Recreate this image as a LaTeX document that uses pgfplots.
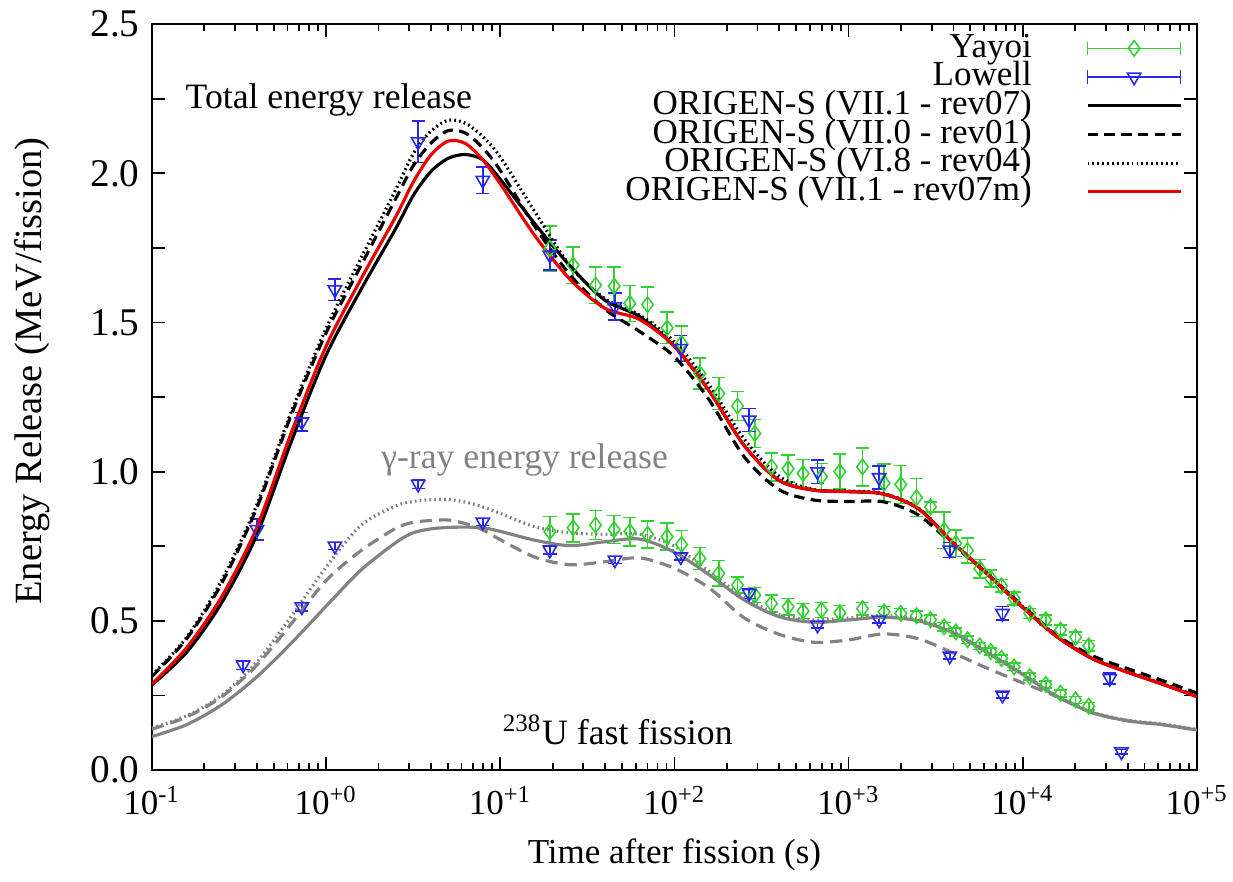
\documentclass[border=0pt]{standalone}
\usepackage{fontspec}
\setmainfont{Liberation Serif}
\usepackage{pgfplots}
\usepackage{pgfplotstable}
\pgfplotsset{compat=1.18}
\definecolor{yayoi}{RGB}{50,210,50}
\definecolor{lowell}{RGB}{40,40,235}
\definecolor{rred}{RGB}{235,0,0}
\definecolor{ggray}{RGB}{130,130,130}

\pgfplotstableread{
t red solid dashed dotted gsolid gdashed gdotted
0.1 0.288 0.285 0.313 0.318 0.112 0.137 0.140
0.1585 0.410 0.395 0.440 0.445 0.152 0.178 0.182
0.2512 0.580 0.560 0.625 0.635 0.218 0.245 0.250
0.3981 0.810 0.785 0.875 0.885 0.311 0.350 0.360
0.631 1.130 1.100 1.190 1.200 0.425 0.490 0.515
1 1.420 1.390 1.465 1.480 0.549 0.635 0.680
1.585 1.645 1.610 1.690 1.715 0.670 0.735 0.820
2.512 1.855 1.815 1.915 1.945 0.762 0.810 0.885
3.162 1.970 1.925 2.025 2.065 0.795 0.830 0.900
3.981 2.060 2.005 2.100 2.140 0.808 0.836 0.906
5.012 2.108 2.050 2.143 2.178 0.813 0.838 0.907
6.31 2.100 2.063 2.135 2.168 0.814 0.826 0.898
7.943 2.045 2.045 2.085 2.123 0.812 0.805 0.882
10 1.965 1.980 2.010 2.055 0.800 0.772 0.860
15.85 1.790 1.830 1.820 1.870 0.770 0.713 0.815
25.12 1.645 1.690 1.660 1.690 0.752 0.688 0.795
39.81 1.548 1.575 1.545 1.580 0.765 0.698 0.790
63.1 1.510 1.520 1.470 1.525 0.774 0.711 0.790
100 1.420 1.420 1.385 1.435 0.730 0.676 0.750
158.5 1.270 1.270 1.240 1.290 0.654 0.610 0.665
251.2 1.088 1.088 1.050 1.110 0.570 0.510 0.578
398.1 0.971 0.971 0.940 0.985 0.514 0.455 0.522
631 0.938 0.938 0.905 0.940 0.495 0.428 0.503
1000 0.933 0.933 0.900 0.935 0.503 0.436 0.510
1585 0.925 0.925 0.899 0.927 0.512 0.456 0.518
2512 0.876 0.876 0.855 0.878 0.500 0.440 0.505
3981 0.761 0.761 0.755 0.763 0.460 0.392 0.463
6310 0.655 0.655 0.655 0.657 0.392 0.340 0.395
10000 0.545 0.545 0.550 0.547 0.320 0.292 0.322
15850 0.445 0.445 0.450 0.447 0.245 0.245 0.247
25120 0.373 0.373 0.383 0.375 0.192 0.192 0.194
39810 0.328 0.328 0.340 0.330 0.165 0.165 0.167
63100 0.288 0.288 0.300 0.290 0.152 0.152 0.154
100000 0.246 0.246 0.258 0.248 0.134 0.134 0.136
}\curves

\pgfplotstableread{
t tot etot gam egam
19.27 1.748 0.075 0.799 0.050
26.21 1.692 0.061 0.812 0.047
35.25 1.625 0.061 0.821 0.049
45.07 1.622 0.064 0.806 0.047
55.46 1.564 0.060 0.799 0.048
70.08 1.560 0.059 0.790 0.045
90.8 1.482 0.053 0.782 0.045
109.9 1.430 0.059 0.756 0.047
139.9 1.329 0.052 0.709 0.037
179.8 1.262 0.053 0.659 0.043
230.2 1.220 0.049 0.620 0.027
289.4 1.128 0.047 0.586 0.025
360.8 1.016 0.047 0.558 0.028
449.5 1.010 0.045 0.547 0.028
548.0 0.994 0.047 0.533 0.025
698.9 0.983 0.045 0.536 0.025
890.3 1.000 0.059 0.527 0.025
1202 1.016 0.064 0.541 0.021
1599 0.962 0.064 0.530 0.018
1994 0.957 0.064 0.525 0.017
2454 0.913 0.064 0.517 0.015
2953 0.882 0.017 0.504 0.015
3534 0.804 0.061 0.480 0.015
4125 0.760 0.045 0.463 0.013
4815 0.735 0.042 0.437 0.013
5665 0.675 0.031 0.416 0.012
6551 0.642 0.028 0.397 0.012
7547 0.617 0.021 0.374 0.012
8916 0.575 0.022 0.346 0.012
10970 0.525 0.017 0.313 0.012
13550 0.503 0.017 0.287 0.012
16460 0.469 0.017 0.257 0.012
20070 0.445 0.017 0.235 0.012
23920 0.416 0.018 0.214 0.012
}\yayoi

\pgfplotstableread{
t y e
0.401 0.806 0.036
0.726 1.167 0.031
1.123 1.610 0.036
3.379 2.106 0.070
7.94 1.977 0.044
19.27 1.726 0.050
45.5 1.553 0.045
108.8 1.413 0.044
268.5 1.173 0.039
663 1.000 0.039
1497 0.980 0.039
3811 0.737 0.025
7645 0.525 0.023
31580 0.307 0.018
}\lowtot

\pgfplotstableread{
t y e
0.334 0.352 0.015
0.726 0.547 0.015
1.123 0.751 0.012
3.379 0.958 0.015
7.94 0.831 0.012
19.27 0.737 0.013
45.5 0.704 0.012
108.8 0.715 0.012
268.5 0.592 0.017
663 0.486 0.010
1497 0.503 0.010
3811 0.382 0.010
7645 0.251 0.010
36860 0.061 0.008
}\lowgam

\pgfplotsset{
  errlegend/.style={legend image code/.code={
    \draw[##1,mark=none,line width=0.45pt] (0pt,0pt) -- (26.6pt,0pt);
    \draw[##1,mark=none,line width=0.45pt] (0pt,-1.9pt) -- (0pt,1.9pt) (26.6pt,-1.9pt) -- (26.6pt,1.9pt);
    \draw[##1] plot coordinates {(13.3pt,0pt)};
  }},
}

\begin{document}
\begin{tikzpicture}
\begin{axis}[
  scale only axis, width=298.6pt, height=213.1pt,
  xmode=log, xmin=0.1, xmax=1e5, ymin=0, ymax=2.5,
  xtick={0.1,1,10,100,1000,10000,100000},
  xticklabels={10\textsuperscript{-1},10\textsuperscript{+0},10\textsuperscript{+1},10\textsuperscript{+2},10\textsuperscript{+3},10\textsuperscript{+4},10\textsuperscript{+5}},
  minor xtick={0.2,0.3,0.4,0.5,0.6,0.7,0.8,0.9,2,3,4,5,6,7,8,9,20,30,40,50,60,70,80,90,200,300,400,500,600,700,800,900,2000,3000,4000,5000,6000,7000,8000,9000,20000,30000,40000,50000,60000,70000,80000,90000},
  ytick={0,0.25,0.5,0.75,1,1.25,1.5,1.75,2,2.25,2.5},
  yticklabels={0.0,,0.5,,1.0,,1.5,,2.0,,2.5},
  major tick length=3.7pt, minor tick length=2pt,
  tick style={black, line width=0.5pt},
  axis line style={line width=0.6pt},
  tick align=inside,
  xticklabel style={yshift=-1pt, font=\fontsize{10}{12}\selectfont},
  yticklabel style={font=\fontsize{11.2}{13}\selectfont},
  xlabel={Time after fission (s)},
  ylabel={Energy Release (MeV/fission)},
  xlabel style={at={(axis description cs:0.5,-0.114)}, anchor=center, font=\fontsize{10}{12}\selectfont},
  ylabel style={at={(axis description cs:-0.115,0.535)}, anchor=center, font=\fontsize{11}{13}\selectfont},
  legend style={draw=none, fill=none, inner sep=0pt, at={(rel axis cs:0.9866,0.9878)}, anchor=north east,
    nodes={inner sep=0pt, text height=6.6pt, text depth=1.6pt, font=\fontsize{10}{12}\selectfont},
    row sep=0pt, column sep=15.5pt},
  legend cell align=right,
  legend plot pos=right,
  legend image code/.code={\draw[#1] (0pt,0pt) -- (26.6pt,0pt);},
]
\coordinate (SW) at (rel axis cs:0,0);
\coordinate (NE) at (rel axis cs:1,1);

% Yayoi total
\addplot[yayoi, line width=0.45pt, only marks, mark=diamond, mark size=2.2pt, errlegend,
  error bars/.cd, y dir=both, y explicit, error bar style={line width=0.45pt},
  error mark options={rotate=90, mark size=1.9pt, line width=0.45pt}]
  table[x=t, y=tot, y error=etot] {\yayoi};
\addlegendentry{Yayoi}
% Lowell total
\addplot[lowell, line width=0.45pt, only marks, mark=triangle, mark size=2.2pt, mark options={rotate=180}, errlegend,
  error bars/.cd, y dir=both, y explicit, error bar style={line width=0.45pt},
  error mark options={rotate=90, mark size=1.9pt, line width=0.45pt}]
  table[x=t, y=y, y error=e] {\lowtot};
\addlegendentry{Lowell}

% gamma data (no legend)
\addplot[yayoi, line width=0.45pt, only marks, mark=diamond, mark size=2.2pt, forget plot,
  error bars/.cd, y dir=both, y explicit, error bar style={line width=0.45pt},
  error mark options={rotate=90, mark size=1.9pt, line width=0.45pt}]
  table[x=t, y=gam, y error=egam] {\yayoi};
\addplot[lowell, line width=0.45pt, only marks, mark=triangle, mark size=2.2pt, mark options={rotate=180}, forget plot,
  error bars/.cd, y dir=both, y explicit, error bar style={line width=0.45pt},
  error mark options={rotate=90, mark size=1.9pt, line width=0.45pt}]
  table[x=t, y=y, y error=e] {\lowgam};

% gamma curves
\addplot[ggray, line width=0.9pt, smooth, tension=0.5, forget plot] table[x=t, y=gsolid] {\curves};
\addplot[ggray, line width=0.9pt, smooth, tension=0.5, dash pattern=on 3.5pt off 2pt, forget plot] table[x=t, y=gdashed] {\curves};
\addplot[ggray, line width=0.9pt, smooth, tension=0.5, dash pattern=on 0.5pt off 0.9pt, forget plot] table[x=t, y=gdotted] {\curves};

% total curves
\addplot[black, line width=0.9pt, smooth, tension=0.5] table[x=t, y=solid] {\curves};
\addlegendentry{ORIGEN-S (VII.1 - rev07)}
\addplot[black, line width=0.9pt, smooth, tension=0.5, dash pattern=on 3pt off 1.8pt] table[x=t, y=dashed] {\curves};
\addlegendentry{ORIGEN-S (VII.0 - rev01)}
\addplot[black, line width=0.9pt, smooth, tension=0.5, dash pattern=on 0.5pt off 0.9pt] table[x=t, y=dotted] {\curves};
\addlegendentry{ORIGEN-S (VI.8 - rev04)}
\addplot[rred, line width=0.9pt, smooth, tension=0.5] table[x=t, y=red] {\curves};
\addlegendentry{ORIGEN-S (VII.1 - rev07m)}

\node[font=\fontsize{10.2}{12}\selectfont] at (axis cs:1.037,2.245) {Total energy release};
\node[ggray, font=\fontsize{10.2}{12}\selectfont] at (axis cs:13.8,1.039) {γ-ray energy release};
\node[font=\fontsize{10.2}{12}\selectfont] at (axis cs:47.3,0.134) {\textsuperscript{238}U fast fission};
\end{axis}
\pgfresetboundingbox
\path ([xshift=-43.4pt,yshift=-32pt]SW) rectangle ([xshift=10.3pt,yshift=6.9pt]NE);
\end{tikzpicture}
\end{document}
